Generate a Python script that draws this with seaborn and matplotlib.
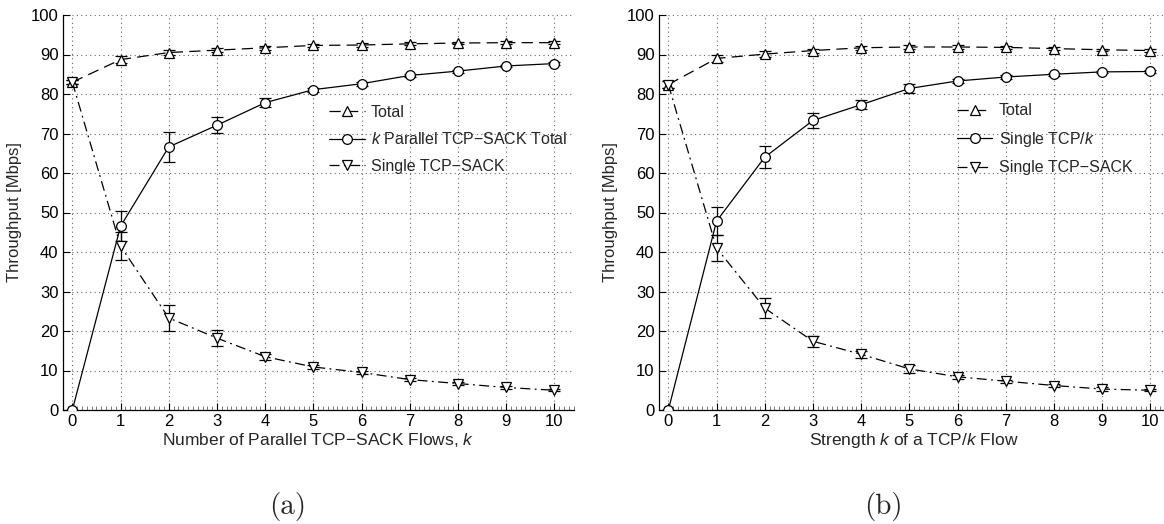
import numpy as np
import pandas as pd
import matplotlib
matplotlib.use("Agg")
import matplotlib.pyplot as plt
import seaborn as sns
from matplotlib.ticker import MultipleLocator

sns.set_theme(style="white")
plt.rcParams['font.family'] = ['Liberation Sans', 'DejaVu Sans']
plt.rcParams['mathtext.fontset'] = 'custom'
plt.rcParams['mathtext.it'] = 'Liberation Sans:italic'
plt.rcParams['mathtext.rm'] = 'Liberation Sans'

k = list(range(11))

# Panel (a)
a_total = [83.0, 88.7, 90.5, 91.1, 91.7, 92.3, 92.4, 92.7, 92.9, 93.0, 93.0]
a_total_err = [0.5, 0.8, 0.6, 0.5, 0.5, 0.4, 0.4, 0.4, 0.3, 0.3, 0.3]
a_par = [0.0, 46.5, 66.6, 72.1, 77.8, 81.1, 82.6, 84.7, 85.8, 87.1, 87.7]
a_par_err = [0.0, 3.8, 3.7, 2.0, 1.1, 0.5, 0.5, 0.4, 0.4, 0.3, 0.3]
a_single = [83.0, 41.5, 23.3, 18.2, 13.5, 10.9, 9.5, 7.7, 6.7, 5.7, 5.0]
a_single_err = [0.5, 3.6, 3.3, 2.0, 0.8, 0.6, 0.5, 0.4, 0.4, 0.4, 0.3]

# Panel (b)
b_total = [82.4, 89.0, 90.1, 91.0, 91.7, 91.9, 91.9, 91.8, 91.5, 91.2, 91.0]
b_total_err = [1.0, 0.8, 0.7, 0.5, 0.5, 0.4, 0.4, 0.4, 0.4, 0.3, 0.3]
b_tcpk = [0.0, 47.8, 64.0, 73.3, 77.3, 81.4, 83.3, 84.3, 85.0, 85.6, 85.7]
b_tcpk_err = [0.0, 3.5, 2.8, 1.8, 1.1, 1.2, 0.5, 0.4, 0.4, 0.3, 0.3]
b_single = [82.4, 41.0, 25.8, 17.4, 14.1, 10.4, 8.4, 7.3, 6.2, 5.3, 5.0]
b_single_err = [1.0, 3.3, 2.6, 1.4, 0.9, 1.0, 0.5, 0.4, 0.4, 0.4, 0.3]

xlabels = ["Number of Parallel TCP\u2212SACK Flows, $k$", "Strength $k$ of a TCP/$k$ Flow"]
ylabel = "Throughput [Mbps]"
legend_a = ["Total", "$k$ Parallel TCP\u2212SACK Total", "Single TCP\u2212SACK"]
legend_b = ["Total", "Single TCP/$k$", "Single TCP\u2212SACK"]
captions = ["(a)", "(b)"]

W, H = 1164, 524
fig = plt.figure(figsize=(W / 100, H / 100), dpi=100)
axA = fig.add_axes([62.7 / W, (H - 410) / H, 511 / W, 395 / H])
axB = fig.add_axes([658.7 / W, (H - 410) / H, 511 / W, 395 / H])

styles = [
    dict(marker="^", ls=(0, (9, 5))),
    dict(marker="o", ls="-"),
    dict(marker="v", ls=(0, (8, 3.5, 1.5, 3.5))),
]

def panel(ax, series, errs, names, xlabel, cap, legx):
    for y, e, nm, st in zip(series, errs, names, styles):
        df = pd.DataFrame({"k": k, "thr": y})
        sns.lineplot(data=df, x="k", y="thr", ax=ax, color="black", lw=0.9,
                     marker=st["marker"], markersize=7, markerfacecolor="white",
                     markeredgecolor="black", markeredgewidth=0.9,
                     linestyle=st["ls"], label=nm, zorder=3)
        ax.errorbar(k, y, yerr=e, fmt="none", ecolor="black", elinewidth=0.9,
                    capsize=4, capthick=0.9, zorder=2)
    ax.set_xlim(-0.2, 10.4)
    ax.set_ylim(0, 100)
    ax.xaxis.set_major_locator(MultipleLocator(1))
    ax.yaxis.set_major_locator(MultipleLocator(10))
    ax.xaxis.set_minor_locator(MultipleLocator(0.1))
    ax.grid(True, which="major", ls=(0, (1, 3)), color="#666666", lw=0.8)
    ax.tick_params(axis="both", which="major", direction="in", length=5, width=0.8,
                   labelsize=12, pad=3, colors="black")
    ax.tick_params(axis="x", which="minor", direction="in", length=3, width=0.6,
                   bottom=True, colors="#666666")
    ax.tick_params(axis="y", which="major", left=True)
    ax.tick_params(axis="x", which="major", bottom=True)
    for s in ["top", "right"]:
        ax.spines[s].set_visible(False)
    for s in ["left", "bottom"]:
        ax.spines[s].set_color("black")
        ax.spines[s].set_linewidth(0.9)
    ax.set_xlabel(xlabel, fontsize=12.5, labelpad=1)
    ax.set_ylabel(ylabel, fontsize=12, labelpad=6)
    ax.legend(loc="center left", bbox_to_anchor=(legx, 0.685), frameon=False,
              fontsize=11.5, handlelength=2.2, handletextpad=0.4,
              labelspacing=0.72, borderpad=0.2)
    ax.text(0.44, -0.245, cap, transform=ax.transAxes, ha="center", va="center",
            fontsize=21, family="cmr10")

panel(axA, [a_total, a_par, a_single], [a_total_err, a_par_err, a_single_err],
      legend_a, xlabels[0], captions[0], 0.50)
panel(axB, [b_total, b_tcpk, b_single], [b_total_err, b_tcpk_err, b_single_err],
      legend_b, xlabels[1], captions[1], 0.562)

fig.savefig("out.png", dpi=100)
